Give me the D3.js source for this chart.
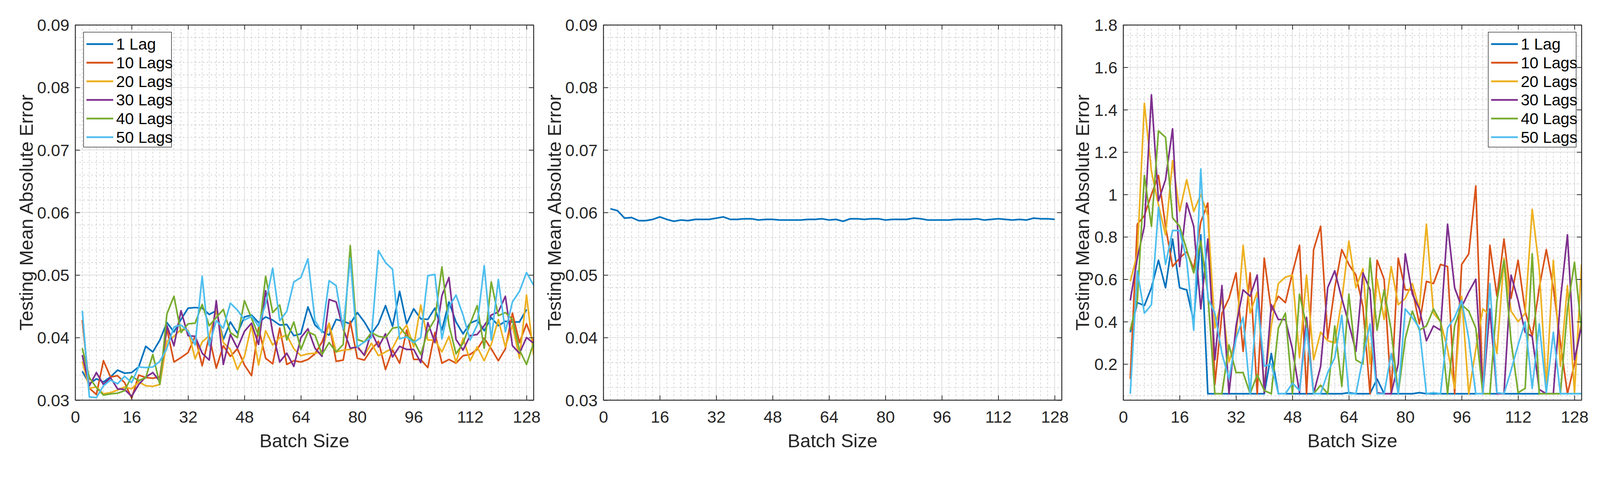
<!DOCTYPE html>
<html>
<head>
<meta charset="utf-8">
<script src="https://cdn.jsdelivr.net/npm/d3@7"></script>
<style>
  html, body { margin: 0; padding: 0; width: 100%; height: 100%; overflow: hidden; background: #fff; }
  svg { display: block; font-family: Arial, "Liberation Sans", sans-serif; }
</style>
</head>
<body>
<svg id="chart" width="100%" height="100%" viewBox="0 0 4423 1276" preserveAspectRatio="xMidYMin meet"></svg>
<script>
// batch sizes
const batch = d3.range(2, 131, 2);        // 2..130
const batchMid = d3.range(2, 129, 2);     // 2..128
const seriesNames = ["1 Lag", "10 Lags", "20 Lags", "30 Lags", "40 Lags", "50 Lags"];
const colors = ["#0072BD", "#D95319", "#EDB120", "#7E2F8E", "#77AC30", "#4DBEEE"];
const xTicks = [0, 16, 32, 48, 64, 80, 96, 112, 128];

// panel 1 (values x 1e-3)
const p1_lag1 = [34.6,32.6,33.4,32.9,33.7,34.8,34.3,34.4,35.3,38.6,37.7,39.6,42.4,40.9,42.9,44.7,44.8,44.7,43.7,44.3,39.7,42.5,40.7,43.3,43.6,42.4,43.3,42.8,42.0,42.1,40.3,40.6,
  44.9,42.0,41.0,40.4,42.9,42.6,42.2,44.0,42.5,40.6,42.2,45.1,41.8,47.4,42.2,44.6,43.0,42.9,44.7,41.2,45.7,42.5,40.6,42.3,42.8,41.1,43.2,41.9,42.6,42.5,42.5,44.5];
const p1_lag10 = [42.8,31.9,30.9,36.3,33.7,33.9,32.8,30.3,34.0,33.6,33.5,33.7,41.4,36.1,36.8,37.6,40.2,35.5,40.2,35.1,38.7,37.0,38.2,35.6,33.9,41.6,36.7,35.8,41.5,35.7,36.3,36.1,
  36.5,37.4,39.3,42.3,36.2,36.4,42.6,36.7,36.4,38.1,39.4,34.9,38.0,35.9,41.2,36.5,36.5,35.2,40.8,35.9,36.5,35.9,37.1,37.3,38.1,39.9,38.2,36.3,38.2,43.9,39.2,42.2,39.2];
const p1_lag20 = [36.2,31.9,32.1,31.0,31.2,31.6,32.1,31.8,32.9,32.3,32.2,32.5,39.4,40.2,41.3,41.2,36.6,39.3,40.3,44.3,39.2,38.1,34.9,37.0,42.0,35.6,41.1,38.8,40.0,40.4,38.2,37.1,
  37.4,37.5,37.7,42.3,37.7,38.0,38.1,38.7,37.1,39.1,37.1,37.7,38.3,40.5,42.0,38.5,45.2,39.6,39.6,37.7,40.2,36.0,39.9,36.3,38.5,36.3,38.9,42.9,38.5,42.0,36.7,46.8,37.2];
const p1_lag30 = [37.2,32.3,34.4,32.5,33.6,31.8,31.7,30.6,32.5,33.7,34.4,33.0,41.9,38.7,44.3,40.3,40.2,37.5,36.4,45.9,35.7,40.5,38.3,41.0,42.3,38.9,47.5,40.8,36.1,37.5,35.4,40.0,
  41.4,38.3,37.0,46.1,45.7,41.4,38.3,38.5,37.2,40.9,38.5,40.6,36.9,38.6,38.1,38.1,36.0,42.4,39.2,46.7,49.6,39.7,38.0,40.3,40.5,41.9,43.6,44.1,46.6,38.7,37.5,40.0,39.1];
const p1_lag40 = [38.3,33.6,32.0,30.8,31.0,31.1,31.5,33.8,33.1,33.6,37.3,32.5,43.8,46.6,40.8,42.2,42.3,45.3,41.9,43.2,44.5,40.8,40.0,45.9,43.1,40.3,49.8,44.0,45.2,39.6,42.5,38.1,
  40.9,40.4,37.3,39.2,37.7,38.9,54.7,39.7,39.3,40.8,40.2,40.0,41.5,41.7,40.3,39.5,37.3,41.0,42.9,51.3,42.0,37.4,39.1,42.2,45.1,38.3,48.9,43.5,44.0,42.9,38.0,35.7,39.1];
const p1_lag50 = [44.3,30.5,30.4,32.3,33.2,32.6,33.8,32.8,35.3,35.2,35.3,36.2,38.3,41.7,42.0,41.0,38.8,49.8,38.7,42.7,41.5,45.5,44.4,42.8,43.4,41.8,45.4,51.1,42.7,44.2,48.9,49.6,
  52.6,42.7,40.8,49.1,48.3,41.4,52.7,38.5,39.3,40.0,53.9,52.0,50.9,39.8,40.1,39.2,40.0,49.9,50.1,39.8,44.9,46.8,43.6,39.6,42.0,51.5,39.6,49.3,40.9,45.7,47.4,50.4,48.4];

// panel 2 (values x 1e-3)
const p2_lag1 = [60.6,60.3,59.1,59.2,58.7,58.7,58.9,59.3,58.9,58.6,58.8,58.7,58.9,58.9,58.9,59.1,59.3,58.9,58.9,59.0,59.0,58.8,58.9,58.9,58.8,58.8,58.8,58.8,58.9,58.9,59.0,58.8,
  58.9,58.6,59.0,59.0,58.9,59.0,59.0,58.8,58.9,58.9,58.9,59.1,59.0,58.8,58.8,58.8,58.8,58.9,58.9,58.9,59.0,58.8,58.9,59.0,58.9,58.8,58.9,58.8,59.1,59.0,59.0,58.9];

// panel 3
const p3_lag1 = [0.35,0.49,0.476,0.56,0.69,0.56,0.79,0.56,0.55,0.40,0.81,0.06,0.06,0.06,0.06,0.06,0.06,0.06,0.06,0.06,0.25,0.06,0.06,0.06,0.06,0.06,0.06,0.06,0.06,0.06,0.06,0.065,
  0.06,0.06,0.06,0.13,0.06,0.06,0.06,0.06,0.06,0.065,0.06,0.06,0.06,0.06,0.06,0.06,0.06,0.06,0.06,0.06,0.06,0.06,0.06,0.06,0.06,0.06,0.06,0.06,0.06,0.06,0.06,0.06,0.06];
const p3_lag10 = [0.13,0.86,0.90,1.00,1.09,0.85,0.66,0.70,0.73,0.65,0.87,0.96,0.105,0.44,0.51,0.63,0.26,0.63,0.06,0.70,0.45,0.52,0.49,0.63,0.76,0.06,0.74,0.85,0.32,0.56,0.74,0.67,
  0.62,0.47,0.06,0.69,0.60,0.06,0.70,0.55,0.55,0.39,0.59,0.58,0.67,0.66,0.06,0.67,0.72,1.04,0.06,0.76,0.52,0.79,0.51,0.69,0.45,0.33,0.56,0.74,0.56,0.30,0.06,0.20,0.40];
const p3_lag20 = [0.59,0.72,1.43,1.11,0.95,0.81,1.16,0.92,1.07,0.92,1.00,0.90,0.37,0.51,0.21,0.32,0.76,0.44,0.54,0.09,0.38,0.58,0.61,0.62,0.23,0.62,0.22,0.35,0.31,0.30,0.50,0.78,
  0.56,0.65,0.20,0.60,0.41,0.66,0.48,0.51,0.58,0.46,0.86,0.44,0.40,0.27,0.085,0.52,0.06,0.27,0.46,0.43,0.25,0.70,0.45,0.40,0.44,0.93,0.65,0.095,0.69,0.19,0.57,0.065,0.67];
const p3_lag30 = [0.50,0.70,0.85,1.47,0.97,1.07,1.31,0.66,0.96,0.85,0.46,0.79,0.22,0.57,0.06,0.38,0.55,0.52,0.62,0.065,0.48,0.41,0.41,0.27,0.065,0.42,0.06,0.19,0.56,0.64,0.51,0.39,
  0.26,0.63,0.55,0.065,0.06,0.06,0.20,0.72,0.53,0.46,0.31,0.38,0.36,0.86,0.56,0.47,0.54,0.60,0.06,0.46,0.06,0.06,0.62,0.50,0.35,0.33,0.08,0.06,0.06,0.50,0.81,0.22,0.38];
const p3_lag40 = [0.36,0.50,1.09,0.85,1.30,1.27,0.89,0.85,0.74,0.63,0.78,0.53,0.06,0.06,0.29,0.16,0.16,0.06,0.15,0.075,0.06,0.37,0.44,0.06,0.53,0.38,0.06,0.10,0.06,0.38,0.095,0.53,
  0.22,0.20,0.70,0.36,0.55,0.36,0.06,0.32,0.45,0.36,0.38,0.46,0.40,0.06,0.38,0.48,0.45,0.37,0.06,0.06,0.50,0.69,0.31,0.065,0.085,0.72,0.06,0.06,0.06,0.06,0.46,0.68,0.36];
const p3_lag50 = [0.06,0.64,0.44,0.48,0.94,0.67,0.83,0.83,0.69,0.36,1.12,0.51,0.44,0.25,0.13,0.32,0.42,0.06,0.51,0.19,0.20,0.06,0.06,0.11,0.075,0.37,0.06,0.06,0.16,0.23,0.43,0.06,
  0.06,0.23,0.39,0.06,0.06,0.25,0.06,0.46,0.42,0.37,0.06,0.065,0.06,0.37,0.42,0.50,0.32,0.06,0.06,0.58,0.065,0.06,0.17,0.29,0.40,0.085,0.39,0.065,0.35,0.06,0.06,0.06,0.06];

const svg = d3.select("#chart");
const ink = "#262626";

function panel(opt) {
  const x = d3.scaleLinear().domain([0, 130]).range([opt.left, opt.left + 1267]);
  const y = d3.scaleLinear().domain(opt.yDomain).range([1107, 69]);
  const g = svg.append("g");
  const [x0, x1] = x.range(), [y0, y1] = y.range();

  // minor grid
  const xMinor = d3.range(2, 130, 2).filter(v => v % 16 !== 0);
  g.selectAll(".xm").data(xMinor).enter().append("line")
    .attr("x1", d => x(d)).attr("x2", d => x(d)).attr("y1", y0).attr("y2", y1)
    .attr("stroke", "#c4c4c4").attr("stroke-width", 1.5).attr("stroke-dasharray", "5,6");
  g.selectAll(".ym").data(opt.yMinor).enter().append("line")
    .attr("x1", x0).attr("x2", x1).attr("y1", d => y(d)).attr("y2", d => y(d))
    .attr("stroke", "#c4c4c4").attr("stroke-width", 1.5).attr("stroke-dasharray", "5,6");
  // major grid
  g.selectAll(".xg").data(xTicks.slice(1)).enter().append("line")
    .attr("x1", d => x(d)).attr("x2", d => x(d)).attr("y1", y0).attr("y2", y1)
    .attr("stroke", "#dcdcdc").attr("stroke-width", 2);
  g.selectAll(".yg").data(opt.yTicks).enter().append("line")
    .attr("x1", x0).attr("x2", x1).attr("y1", d => y(d)).attr("y2", d => y(d))
    .attr("stroke", "#dcdcdc").attr("stroke-width", 2);

  // lines
  const line = d3.line().x(d => x(d[0])).y(d => y(d[1]));
  const clipId = "clip" + opt.left;
  svg.append("clipPath").attr("id", clipId).append("rect")
    .attr("x", x0).attr("y", y1).attr("width", x1 - x0).attr("height", y0 - y1);
  opt.series.forEach(s => {
    const pts = s.vals.map((v, k) => [s.xs[k], v * opt.scale]);
    g.append("path").attr("d", line(pts)).attr("fill", "none")
      .attr("stroke", s.color).attr("stroke-width", 4.5).attr("stroke-linejoin", "round")
      .attr("clip-path", `url(#${clipId})`);
  });

  // axes with inward ticks
  const xAx = d3.axisBottom(x).tickValues(xTicks).tickSize(-13).tickSizeOuter(0).tickPadding(30);
  const yAx = d3.axisLeft(y).tickValues(opt.yTicks).tickSize(-13).tickSizeOuter(0).tickPadding(16)
    .tickFormat(opt.fmt);
  const gx = g.append("g").attr("transform", `translate(0,${y0})`).call(xAx);
  const gy = g.append("g").attr("transform", `translate(${x0},0)`).call(yAx);
  g.append("g").attr("transform", `translate(0,${y1})`).call(d3.axisTop(x).tickValues(xTicks).tickSize(-13).tickSizeOuter(0).tickFormat(""));
  g.append("g").attr("transform", `translate(${x1},0)`).call(d3.axisRight(y).tickValues(opt.yTicks).tickSize(-13).tickSizeOuter(0).tickFormat(""));
  g.selectAll(".domain").attr("stroke", ink).attr("stroke-width", 2);
  g.selectAll(".tick line").attr("stroke", ink).attr("stroke-width", 2);
  [gx, gy].forEach(a => a.selectAll("text").attr("font-size", 46).attr("fill", ink)
    .attr("font-family", "Arial, 'Liberation Sans', sans-serif"));
  gy.selectAll("text").attr("dy", "0.35em");
  g.append("rect").attr("x", x0).attr("y", y1).attr("width", x1 - x0).attr("height", y0 - y1)
    .attr("fill", "none").attr("stroke", ink).attr("stroke-width", 2);

  // titles
  g.append("text").attr("x", (x0 + x1) / 2).attr("y", 1237).attr("text-anchor", "middle")
    .attr("font-size", 52).attr("fill", ink).text("Batch Size");
  g.append("text").attr("transform", `translate(${opt.titleX},${(y0 + y1) / 2}) rotate(-90)`)
    .attr("text-anchor", "middle").attr("dy", "0.35em").attr("font-size", 52).attr("fill", ink)
    .text("Testing Mean Absolute Error");

  // legend
  if (opt.legendX !== undefined) {
    const lg = g.append("g").attr("transform", `translate(${opt.legendX},89)`);
    lg.append("rect").attr("width", 243).attr("height", 318).attr("fill", "#fff")
      .attr("stroke", ink).attr("stroke-width", 1.5);
    seriesNames.forEach((n, i) => {
      const yy = 33 + i * 51.5;
      lg.append("line").attr("x1", 8).attr("x2", 82).attr("y1", yy).attr("y2", yy)
        .attr("stroke", colors[i]).attr("stroke-width", 5);
      lg.append("text").attr("x", 90).attr("y", yy).attr("dy", "0.35em")
        .attr("font-size", 44).attr("fill", "#000").text(n);
    });
  }
}

const p1 = [p1_lag1, p1_lag10, p1_lag20, p1_lag30, p1_lag40, p1_lag50];
const p3 = [p3_lag1, p3_lag10, p3_lag20, p3_lag30, p3_lag40, p3_lag50];
const fmt2 = d3.format(".2f");
const minorSmall = d3.range(0.032, 0.09, 0.002).filter(v => Math.abs(v * 100 - Math.round(v * 100)) > 1e-6);

panel({
  left: 208, yDomain: [0.03, 0.09], scale: 0.001, titleX: 72, legendX: 231,
  yTicks: d3.range(0.03, 0.0901, 0.01), yMinor: minorSmall, fmt: fmt2,
  series: p1.map((v, i) => ({ vals: v, xs: batch, color: colors[i] }))
});
panel({
  left: 1668, yDomain: [0.03, 0.09], scale: 0.001, titleX: 1532,
  yTicks: d3.range(0.03, 0.0901, 0.01), yMinor: minorSmall, fmt: fmt2,
  series: [{ vals: p2_lag1, xs: batchMid, color: colors[0] }]
});
panel({
  left: 3105, yDomain: [0.03, 1.8], scale: 1, titleX: 2992, legendX: 4114,
  yTicks: [0.2, 0.4, 0.6, 0.8, 1.0, 1.2, 1.4, 1.6, 1.8],
  yMinor: d3.range(0.05, 1.8, 0.05).filter(v => Math.abs(v * 5 - Math.round(v * 5)) > 1e-6),
  fmt: d => (Math.abs(d - 1) < 1e-9 ? "1" : d3.format(".1f")(d)),
  series: p3.map((v, i) => ({ vals: v, xs: batch, color: colors[i] }))
});
</script>
</body>
</html>
